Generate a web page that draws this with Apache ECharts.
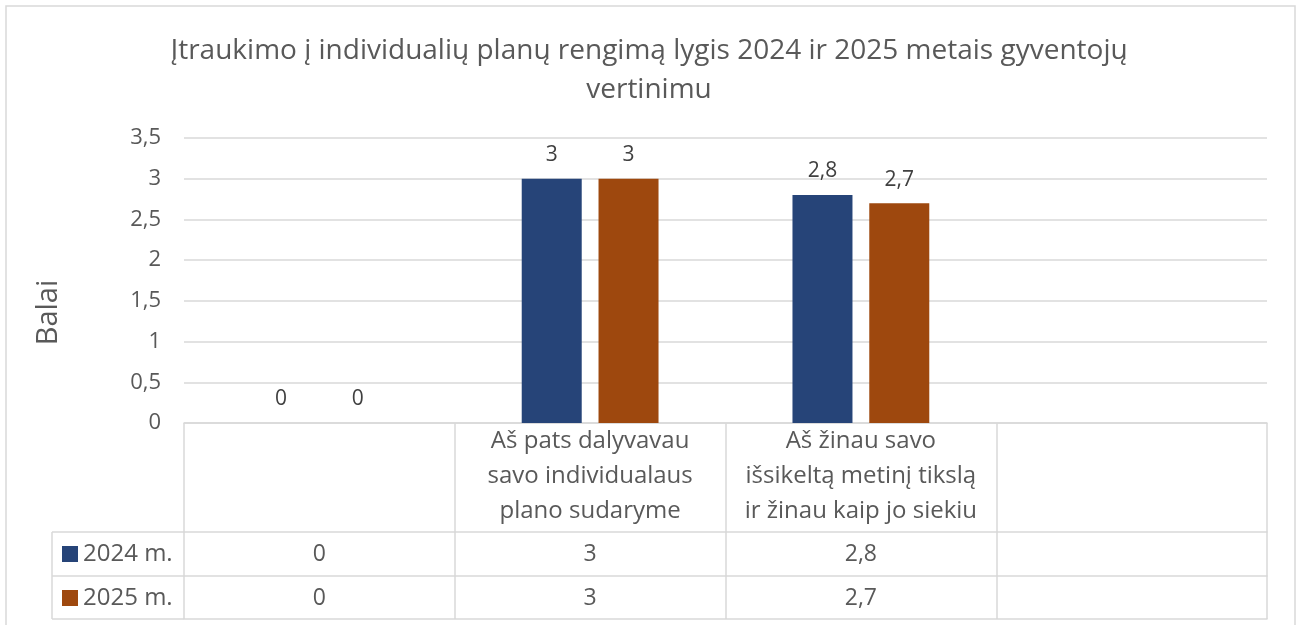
<!DOCTYPE html>
<html>
<head>
<meta charset="utf-8">
<script src="https://cdn.jsdelivr.net/npm/echarts@6/dist/echarts.min.js"></script>
<style>
  html, body { margin: 0; padding: 0; background: #fff; }
  #chart { width: 1298px; height: 625px; }
</style>
</head>
<body>
<div id="chart"></div>
<script>
const categories = ['', 'Aš pats dalyvavau\nsavo individualaus\nplano sudaryme', 'Aš žinau savo\nišsikeltą metinį tikslą\nir žinau kaip jo siekiu', '']
const seriesNames = ['2024 m.', '2025 m.']
const values2024 = [0, 3, 2.8, null]
const values2025 = [0, 3, 2.7, null]
const yTicks = [0, 0.5, 1, 1.5, 2, 2.5, 3, 3.5]

const FONT = '"Open Sans", sans-serif'
const GRID = '#d9d9d9'
const TXT = '#595959'

// plot box
const plotLeft = 184, plotRight = 1267, plotTop = 138, plotBottom = 423
const rowH = [109, 44, 43]   // header row, 2024 row, 2025 row
const legendLeft = 52

const fmt = v => (v === null || v === undefined) ? '' : String(v).replace('.', ',')

let chart = echarts.init(document.getElementById('chart'))

let tableAxis = (offset, vals) => ({
  type: 'category',
  data: categories,
  position: 'bottom',
  offset: offset,
  axisLine: { show: true, lineStyle: { color: GRID, width: 1.5 } },
  axisTick: { show: false },
  axisLabel: {
    show: !!vals,
    interval: 0,
    margin: 10,
    fontSize: 23,
    lineHeight: 24,
    color: TXT,
    fontFamily: FONT,
    formatter: (v, i) => vals ? fmt(vals[i]) : ''
  }
})

let row1 = plotBottom + rowH[0], row2 = row1 + rowH[1], row3 = row2 + rowH[2]

let option = {
  animation: false,
  title: {
    text: 'Įtraukimo į individualių planų rengimą lygis 2024 ir 2025 metais gyventojų\nvertinimu',
    left: 'center',
    top: 27,
    textStyle: {
      fontFamily: FONT, fontSize: 28, fontWeight: 'normal', color: TXT, lineHeight: 39
    }
  },
  legend: {
    data: seriesNames,
    orient: 'vertical',
    left: 62,
    top: row1 + 10,
    padding: 0,
    itemWidth: 16,
    itemHeight: 16,
    itemGap: 20,
    icon: 'rect',
    selectedMode: false,
    textStyle: { fontFamily: FONT, fontSize: 24, lineHeight: 24, color: TXT }
  },
  grid: {
    left: plotLeft, right: 1298 - plotRight, top: plotTop, bottom: 625 - plotBottom,
    outerBoundsMode: 'none'
  },
  xAxis: [
    {
      type: 'category',
      data: categories,
      position: 'bottom',
      axisLine: { show: true, lineStyle: { color: GRID, width: 1.5 } },
      axisTick: { show: true, length: row3 - plotBottom, lineStyle: { color: GRID, width: 1.5 } },
      axisLabel: {
        interval: 0, margin: 1, fontSize: 24, lineHeight: 35,
        color: TXT, fontFamily: FONT, align: 'center'
      }
    },
    tableAxis(rowH[0], values2024),
    tableAxis(rowH[0] + rowH[1], values2025),
    tableAxis(rowH[0] + rowH[1] + rowH[2], null)
  ],
  yAxis: {
    type: 'value',
    min: 0,
    max: 3.5,
    interval: 0.5,
    name: 'Balai',
    nameLocation: 'middle',
    nameRotate: 90,
    nameGap: 121,
    // the name sits a bit below the plot's middle, as in the source
    nameTextStyle: { fontFamily: FONT, fontSize: 29, color: TXT, padding: [0, 64, 0, 0] },
    axisLine: { show: false },
    axisTick: { show: false },
    splitLine: { lineStyle: { color: GRID, width: 1.5 } },
    axisLabel: {
      margin: 23, fontSize: 22, color: TXT, fontFamily: FONT,
      formatter: v => yTicks.includes(v) ? fmt(v) : ''
    }
  },
  series: [
    {
      name: seriesNames[0], type: 'bar', data: values2024,
      barWidth: 60, barGap: '28%',
      itemStyle: { color: '#264478' },
      label: {
        show: true, position: 'top', distance: 13,
        fontSize: 21, color: '#404040', fontFamily: FONT,
        formatter: p => fmt(p.value)
      }
    },
    {
      name: seriesNames[1], type: 'bar', data: values2025,
      barWidth: 60,
      itemStyle: { color: '#9E480E' },
      label: {
        show: true, position: 'top', distance: 13,
        fontSize: 21, color: '#404040', fontFamily: FONT,
        formatter: p => fmt(p.value)
      }
    }
  ],
  graphic: [
    // outer chart frame
    { type: 'rect', shape: { x: 6, y: 6, width: 1289, height: 700 },
      style: { fill: 'none', stroke: GRID, lineWidth: 1.5 }, silent: true },
    // legend column borders of the data table
    { type: 'line', shape: { x1: legendLeft, y1: row1, x2: plotLeft, y2: row1 }, style: { stroke: GRID, lineWidth: 1.5 } },
    { type: 'line', shape: { x1: legendLeft, y1: row2, x2: plotLeft, y2: row2 }, style: { stroke: GRID, lineWidth: 1.5 } },
    { type: 'line', shape: { x1: legendLeft, y1: row3, x2: plotLeft, y2: row3 }, style: { stroke: GRID, lineWidth: 1.5 } },
    { type: 'line', shape: { x1: legendLeft, y1: row1, x2: legendLeft, y2: row3 }, style: { stroke: GRID, lineWidth: 1.5 } }
  ]
}

chart.setOption(option)
</script>
</body>
</html>
